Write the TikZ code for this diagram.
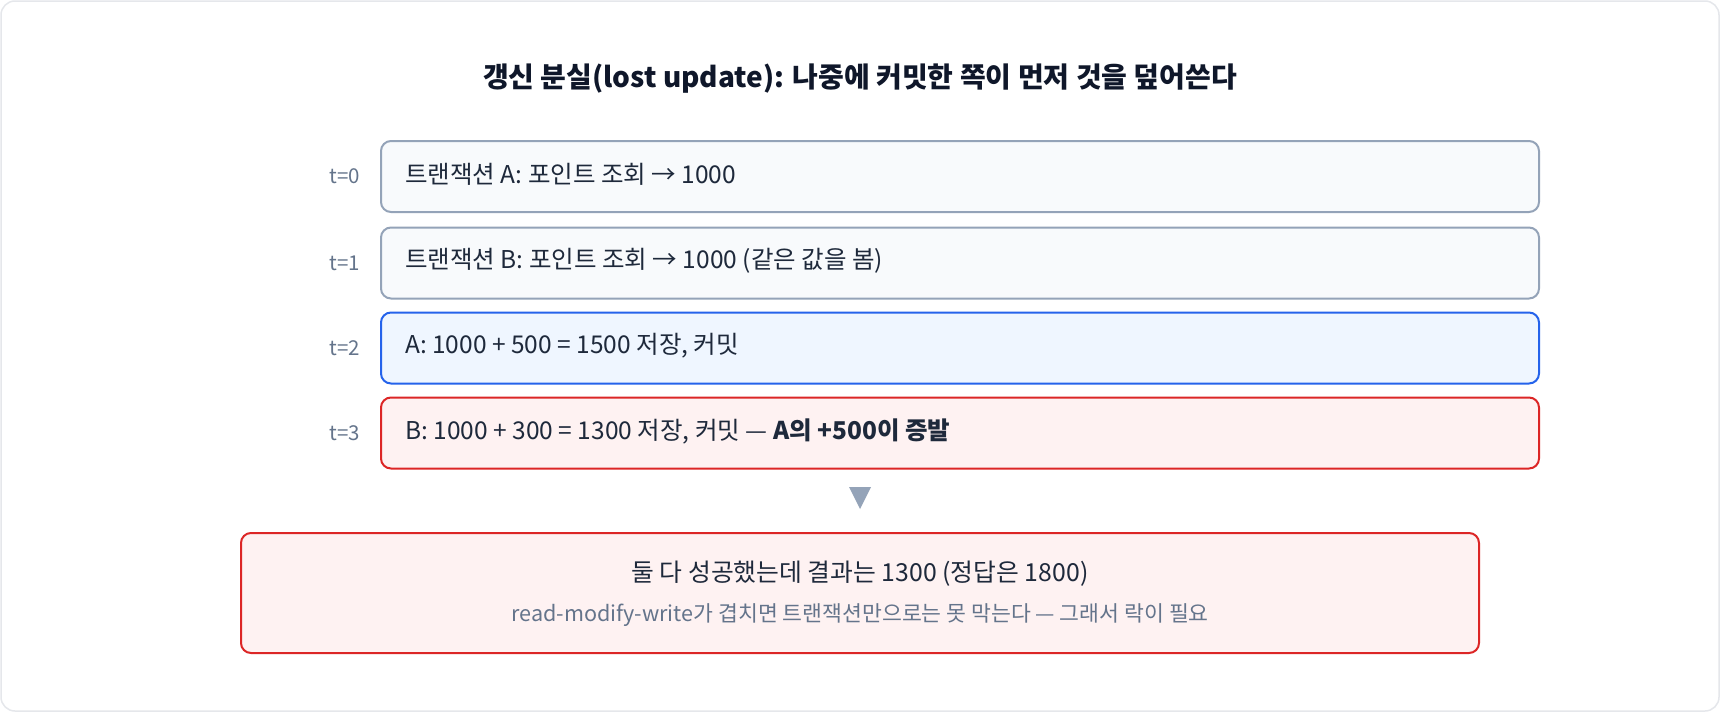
\documentclass[tikz,border=0pt]{standalone}
\usepackage{fontspec}
\setmainfont{Noto Sans CJK KR}
\usetikzlibrary{positioning}
\definecolor{frameC}{HTML}{E5E7EB}
\definecolor{slateB}{HTML}{94A3B8}
\definecolor{slateF}{HTML}{F8FAFC}
\definecolor{blueB}{HTML}{2563EB}
\definecolor{blueF}{HTML}{EFF6FF}
\definecolor{redB}{HTML}{DC2626}
\definecolor{redF}{HTML}{FEF2F2}
\definecolor{ink}{HTML}{1E293B}
\definecolor{titleC}{HTML}{0F172A}
\definecolor{grayT}{HTML}{64748B}
\tikzset{
  stepbox/.style={rounded corners=10pt, line width=2pt, minimum width=1158pt, minimum height=71pt, inner sep=0pt},
  plainbox/.style={stepbox, draw=slateB, fill=slateF},
  bluebox/.style={stepbox, draw=blueB, fill=blueF},
  redbox/.style={stepbox, draw=redB, fill=redF},
  boxtext/.style={anchor=west, text=ink, font=\fontsize{24.5}{28}\selectfont, inner sep=0pt},
  tlabel/.style={anchor=east, text=grayT, font=\fontsize{20.5}{24}\selectfont, inner sep=0pt},
}
\begin{document}
\begin{tikzpicture}[x=1pt,y=-1pt]
\useasboundingbox (0,0) rectangle (1720,712);
\draw[frameC, line width=1.5pt, fill=white, rounded corners=14pt] (1,1) rectangle (1719,711);
\node[text=titleC, font=\fontsize{28}{32}\selectfont\bfseries, inner sep=0pt] (title) at (860,79) {갱신 분실(lost update): 나중에 커밋한 쪽이 먼저 것을 덮어쓴다};

\node[plainbox] (b0) at (960,176.5) {};
\node[plainbox] (b1) at (960,263) {};
\node[bluebox] (b2) at (960,348) {};
\node[redbox] (b3) at (960,433) {};

\foreach \i/\t in {0/{트랜잭션 A: 포인트 조회 → 1000},1/{트랜잭션 B: 포인트 조회 → 1000 (같은 값을 봄)},2/{A: 1000 + 500 = 1500 저장, 커밋}}{
  \node[boxtext] (bt\i) at ([xshift=25pt,yshift=2pt]b\i.west) {\t};
  \node[tlabel] (tl\i) at ([xshift=-20pt]b\i.west) {t=\i};
}
\node[boxtext] (bt3) at ([xshift=25pt,yshift=2pt]b3.west) {B: 1000 + 300 = 1300 저장, 커밋 — \textbf{A의 +500이 증발}};
\node[tlabel] (tl3) at ([xshift=-20pt]b3.west) {t=3};

\coordinate (triTop) at (860,487);
\fill[slateB] ([xshift=-11pt]triTop) -- ([xshift=11pt]triTop) -- ([yshift=-22pt]triTop) -- cycle;

\node[redbox, minimum width=1238pt, minimum height=120pt] (res) at (860,593) {};
\node[text=ink, font=\fontsize{24.8}{29}\selectfont, inner sep=0pt] (res1) at (860,574) {둘 다 성공했는데 결과는 1300 (정답은 1800)};
\node[text=grayT, font=\fontsize{21.6}{25}\selectfont, inner sep=0pt] (res2) at (860,615) {read-modify-write가 겹치면 트랜잭션만으로는 못 막는다 — 그래서 락이 필요};
\end{tikzpicture}
\end{document}
